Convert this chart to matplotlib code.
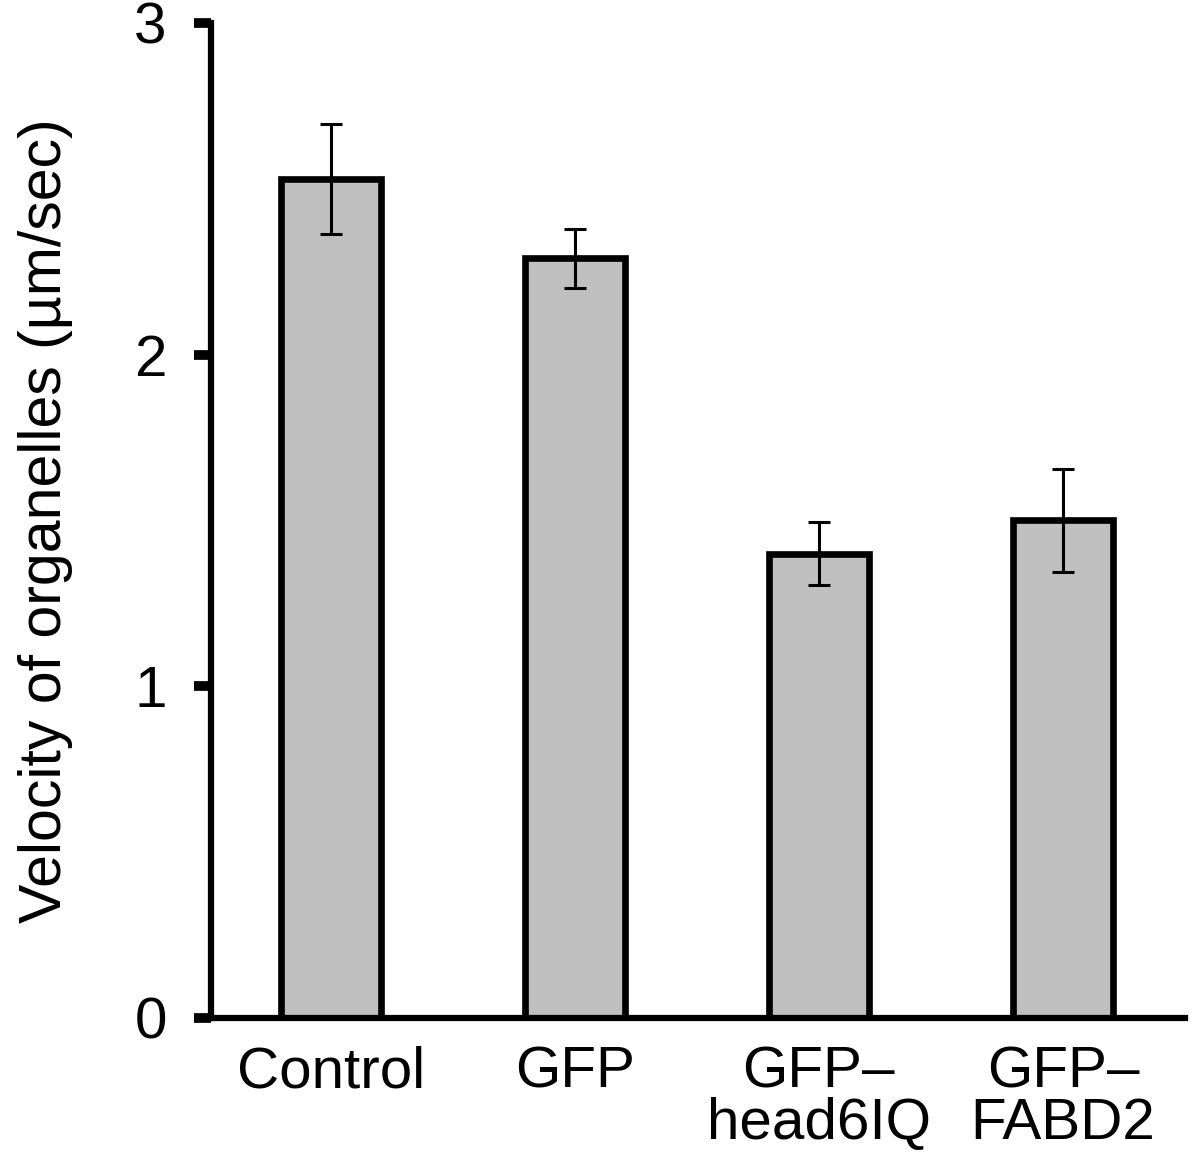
import matplotlib
matplotlib.use("Agg")
import matplotlib.pyplot as plt

categories = ["Control", "GFP", "GFP\u2013\nhead6IQ", "GFP\u2013\nFABD2"]
velocity = [2.53, 2.29, 1.40, 1.50]
errors = [0.165, 0.09, 0.095, 0.155]
yticks = [0, 1, 2, 3]

plt.rcParams['font.family'] = ['Liberation Sans', 'DejaVu Sans']

fig = plt.figure(figsize=(12, 11.59), dpi=100)
ax = fig.add_axes([0.176, 0.1217, 0.8115, 0.8585])

x = list(range(len(categories)))
ax.bar(x, velocity, width=0.41, color='#c0c0c0', edgecolor='black', linewidth=4.8, zorder=2)
ax.errorbar(x, velocity, yerr=errors, fmt='none', ecolor='black', elinewidth=2.2,
            capsize=8, capthick=2.2, zorder=3)

ax.set_xlim(-0.49, 3.5)
ax.set_ylim(0, 3)
ax.set_yticks(yticks)
ax.set_yticklabels([str(t) for t in yticks], fontsize=42)
ax.set_xticks(x)
ax.set_xticklabels(categories, fontsize=42, linespacing=0.93)
ax.tick_params(axis='x', length=0, pad=20)
ax.tick_params(axis='y', length=12, width=7, direction='out', pad=20)

for s in ['top', 'right']:
    ax.spines[s].set_visible(False)
for s in ['left', 'bottom']:
    ax.spines[s].set_linewidth(4.5)

ax.set_ylabel("Velocity of organelles (\u00b5m/sec)", fontsize=42.5, labelpad=44)

fig.savefig("out.png", dpi=100)
